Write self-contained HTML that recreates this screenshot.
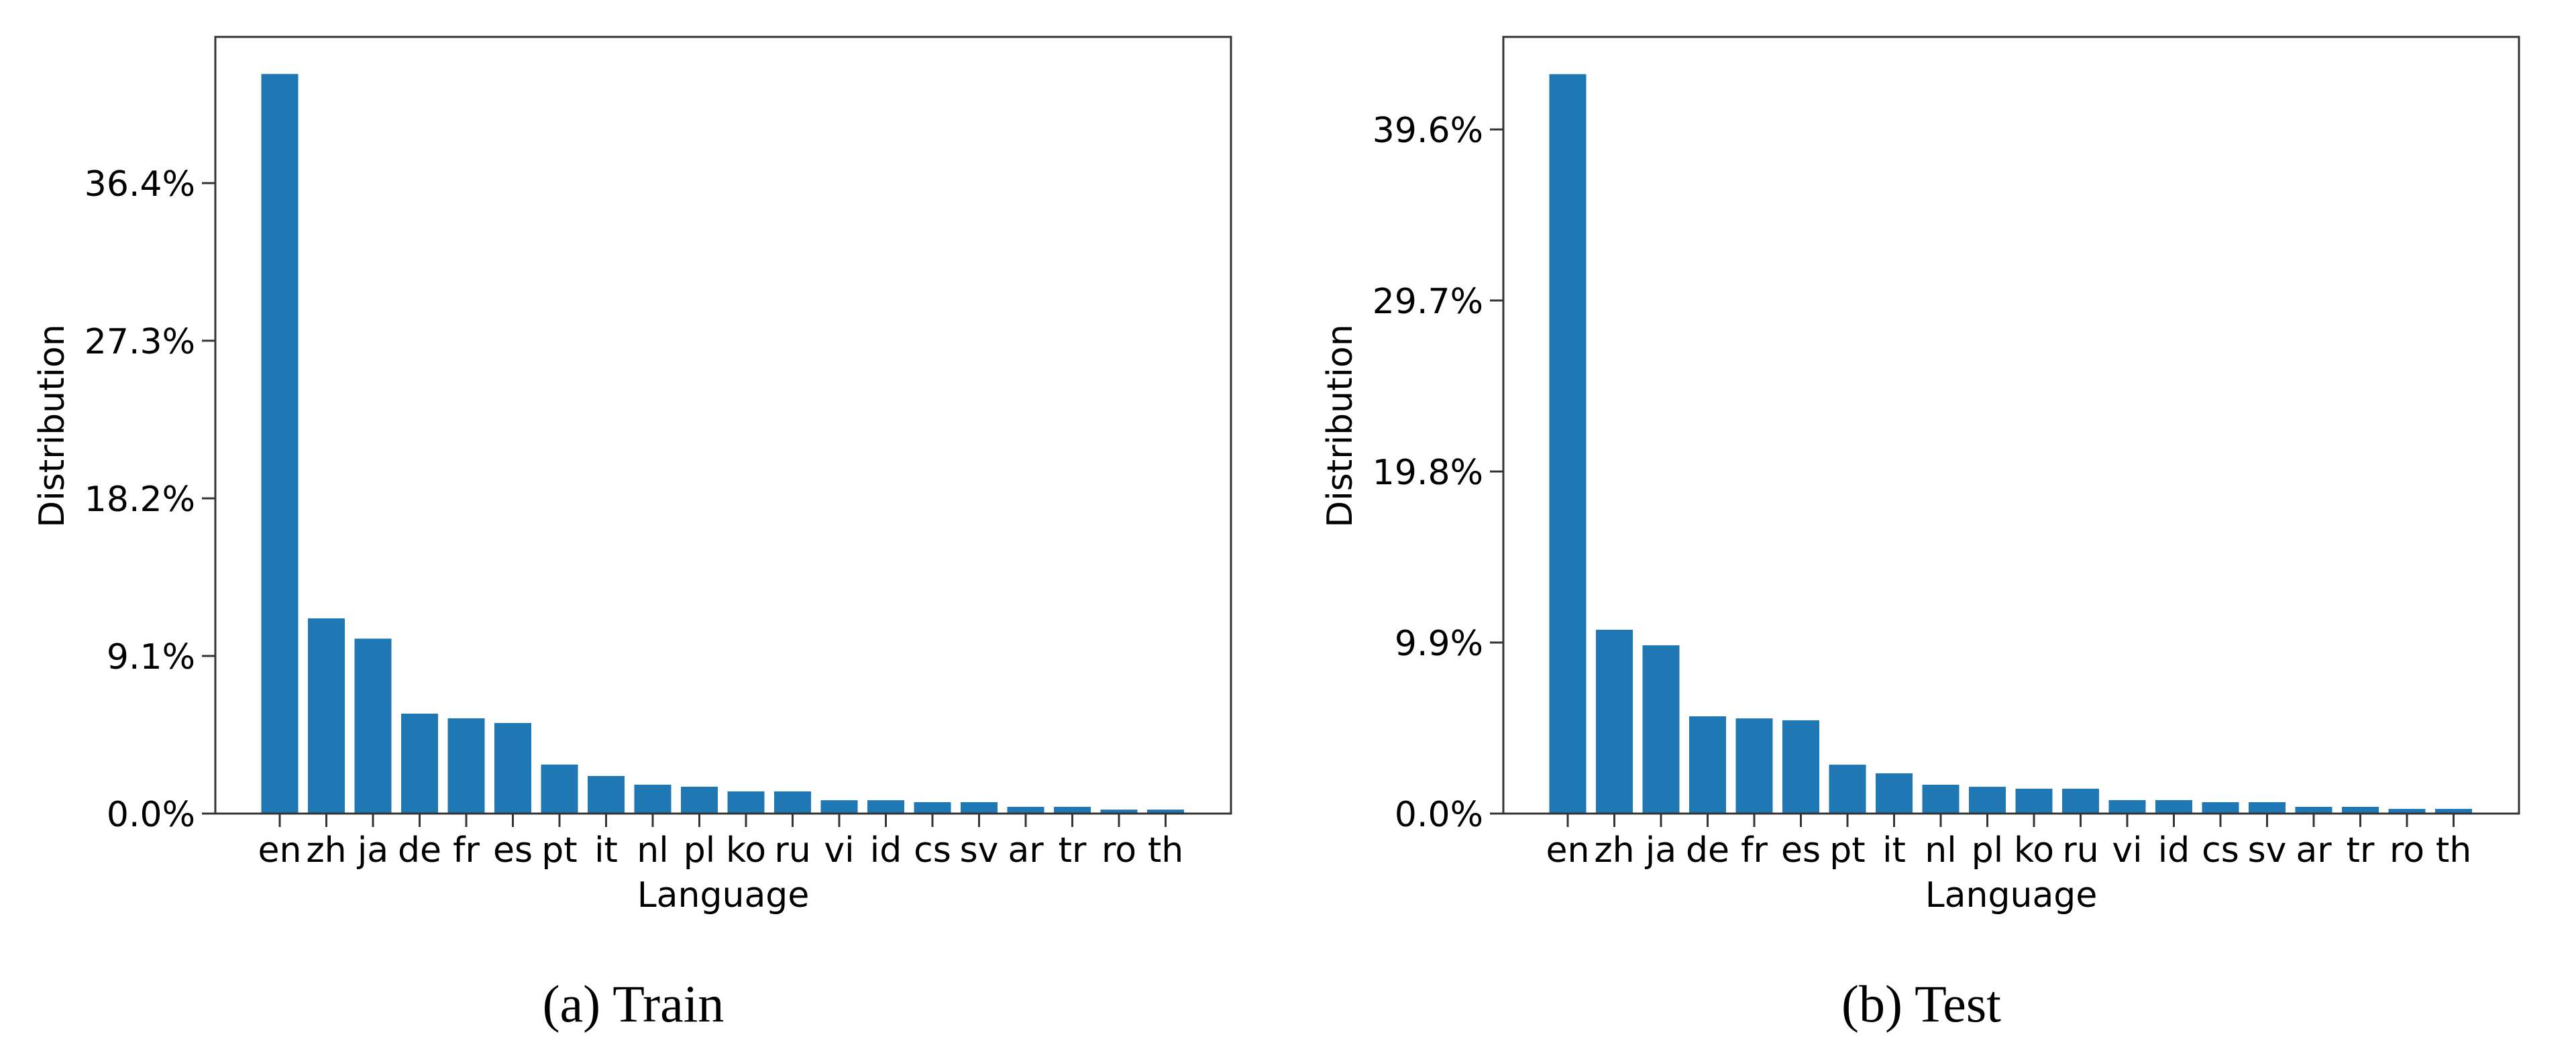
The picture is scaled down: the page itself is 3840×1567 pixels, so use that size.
<!DOCTYPE html>
<html><head><meta charset="utf-8"><style>
html,body{margin:0;padding:0;background:#fff;}
svg{display:block;}
text{font-family:"DejaVu Sans","Liberation Sans",sans-serif;fill:#000;}
.cap{font-family:"Liberation Serif",serif;}
</style></head><body>
<svg id="fig" width="3840" height="1567" viewBox="0 0 3840 1567" xmlns="http://www.w3.org/2000/svg"></svg>
<script>
const categories = ["en","zh","ja","de","fr","es","pt","it","nl","pl","ko","ru","vi","id","cs","sv","ar","tr","ro","th"];
const trainValues = [42.7,11.27,10.1,5.77,5.5,5.23,2.83,2.17,1.67,1.55,1.28,1.28,0.77,0.77,0.66,0.66,0.39,0.39,0.23,0.23];
const testValues = [42.8,10.64,9.74,5.63,5.51,5.4,2.83,2.33,1.67,1.55,1.44,1.44,0.78,0.78,0.66,0.66,0.39,0.39,0.27,0.27];
const trainTicks = [0,9.1,18.2,27.3,36.4];
const testTicks = [0,9.9,19.8,29.7,39.6];
const captions = ["(a)  Train","(b)  Test"];

const NS="http://www.w3.org/2000/svg";
const svg=document.getElementById('fig');
function mk(tag,attrs,parent){const e=document.createElementNS(NS,tag);for(const k in attrs)e.setAttribute(k,attrs[k]);(parent||svg).appendChild(e);return e;}

function drawChart(ox, values, ticks, pxPerPct, caption, key){
  const g=mk('g',{});
  
  
  const L=ox+321, R=ox+1835, T=55, B=1213;
  const x0=ox+417, step=69.5, bw=55;
  const xScale=i=>x0+i*step;
  const yScale=v=>B-v*pxPerPct;
  values.forEach((v,i)=>{
    const r=mk('rect',{x:xScale(i)-bw/2,y:yScale(v),width:bw,height:B-yScale(v),fill:'#1f77b4'},g);
    
    
  });
  const frame=mk('rect',{x:L,y:T,width:R-L,height:B-T,fill:'none',stroke:'#333',"stroke-width":3},g);
  
  
  ticks.forEach(t=>{
    const y=yScale(t);
    mk('line',{x1:L-20,x2:L,y1:y,y2:y,stroke:'#333',"stroke-width":3},g);
    const tx=mk('text',{x:L-30,y:y+19,"font-size":52,"text-anchor":"end"},g);
    tx.textContent=t.toFixed(1)+'%';
    
    
  });
  categories.forEach((c,i)=>{
    const x=xScale(i);
    mk('line',{x1:x,x2:x,y1:B,y2:B+20,stroke:'#333',"stroke-width":3},g);
    const tx=mk('text',{x:x,y:1285,"font-size":52,"text-anchor":"middle"},g);
    tx.textContent=c;
    
    
  });
  const xl=mk('text',{x:ox+1078,y:1352,"font-size":52,"text-anchor":"middle"},g);
  xl.textContent='Language';
  
  
  const yl=mk('text',{x:0,y:0,"font-size":52,"text-anchor":"middle",transform:`translate(${ox+95},635) rotate(-90)`},g);
  yl.textContent='Distribution';
  
  
  const cp=mk('text',{x:ox+944,y:1523,"font-size":78,"text-anchor":"middle",class:"cap"},g);
  cp.textContent=caption;
  
  
}
drawChart(0, trainValues, trainTicks, 940/36.4, captions[0], 'train');
drawChart(1920, testValues, testTicks, 1020/39.6, captions[1], 'test');
</script>
</body></html>
